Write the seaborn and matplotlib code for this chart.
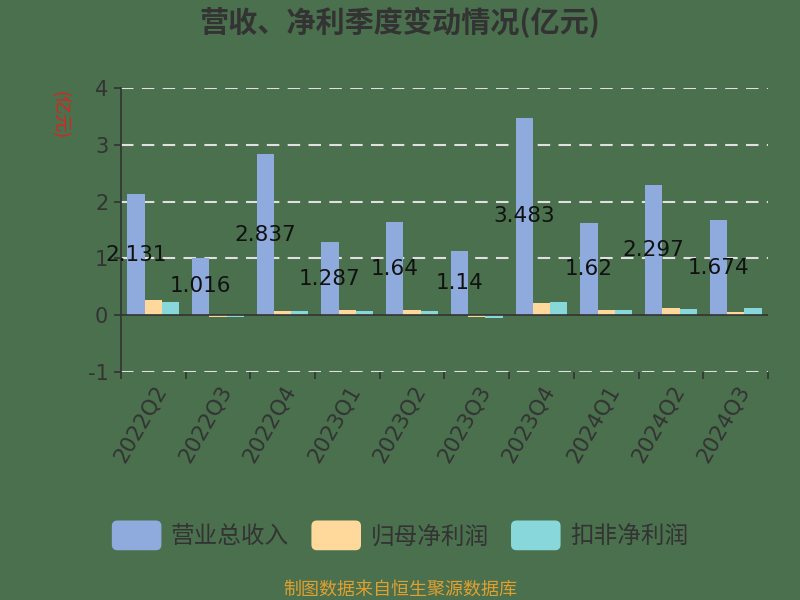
import matplotlib
matplotlib.use("Agg")
import matplotlib.pyplot as plt
import seaborn as sns
import pandas as pd
from matplotlib.patches import FancyBboxPatch
from matplotlib.legend_handler import HandlerPatch

quarters = ["2022Q2", "2022Q3", "2022Q4", "2023Q1", "2023Q2", "2023Q3",
            "2023Q4", "2024Q1", "2024Q2", "2024Q3"]
revenue = [2.131, 1.016, 2.837, 1.287, 1.64, 1.14, 3.483, 1.62, 2.297, 1.674]
net_profit = [0.26, -0.03, 0.08, 0.10, 0.10, -0.03, 0.22, 0.10, 0.12, 0.065]
deducted_profit = [0.24, -0.035, 0.075, 0.082, 0.082, -0.053, 0.24, 0.10, 0.115, 0.135]
series_names = ["营业总收入", "归母净利润", "扣非净利润"]
colors = ["#8FAADC", "#FFD99C", "#88D7DA"]
yticks = [-1, 0, 1, 2, 3, 4]

bg = "#4a704d"
sns.set_theme(style="white")
plt.rcParams["font.family"] = ["Noto Sans CJK SC", "DejaVu Sans"]

df = pd.DataFrame({
    "quarter": quarters * 3,
    "value": revenue + net_profit + deducted_profit,
    "series": [series_names[0]] * 10 + [series_names[1]] * 10 + [series_names[2]] * 10,
})

fig = plt.figure(figsize=(8, 6), dpi=100, facecolor=bg)
ax = fig.add_axes([0.151, 0.38, 0.809, 0.473])
ax.set_facecolor(bg)

sns.barplot(data=df, x="quarter", y="value", hue="series", hue_order=series_names,
            palette=colors, width=0.8, saturation=1, ax=ax, legend=False,
            errorbar=None, linewidth=0)

ax.set_ylim(-1, 4)
ax.set_xlim(-0.5, 9.5)
ax.set_yticks(yticks)
ax.set_yticklabels([str(t) for t in yticks], fontsize=15, color="#333333",
                   family="DejaVu Sans")
for t in yticks:
    if t != 0:
        ax.axhline(t, color="#e0e0e0", lw=1.5, ls=(0, (6, 4)), zorder=0)
ax.axhline(0, color="#333333", lw=1.2, zorder=3)

for s in ["top", "right", "bottom"]:
    ax.spines[s].set_visible(False)
ax.spines["left"].set_color("#333333")
ax.spines["left"].set_linewidth(1.2)
ax.tick_params(axis="y", length=5, color="#333333", width=1.2, left=True, pad=4)

ax.set_xticks(range(10))
ax.set_xticklabels(quarters, rotation=60, ha="right", va="top",
                   rotation_mode="anchor", fontsize=15.5, color="#333333",
                   family="DejaVu Sans")
ax.tick_params(axis="x", length=0, pad=7)
ax.set_xticks([i - 0.5 for i in range(11)], minor=True)
ax.tick_params(axis="x", which="minor", length=5, color="#333333", width=1.2, bottom=True)
ax.set_xlabel("")
ax.set_ylabel("")

ax.bar_label(ax.containers[0], labels=[f"{v:g}" for v in revenue],
             label_type="center", fontsize=15.5, color="#111111", family="DejaVu Sans")

fig.text(0.5, 0.962, "营收、净利季度变动情况(亿元)", ha="center", va="center",
         fontsize=21, fontweight="bold", color="#333333")
fig.text(0.075, 0.808, "(亿元)", rotation=-90, ha="center", va="center",
         fontsize=13, color="#e02020")
fig.text(0.5, 0.018, "制图数据来自恒生聚源数据库", ha="center", va="center",
         fontsize=13, color="#E0A030")


class RoundHandler(HandlerPatch):
    def create_artists(self, legend, orig_handle, xdescent, ydescent, width, height, fontsize, trans):
        p = FancyBboxPatch((-xdescent, -ydescent - 2), width, height + 4,
                           boxstyle="round,pad=0,rounding_size=4",
                           facecolor=orig_handle.get_facecolor(), edgecolor="none",
                           transform=trans)
        return [p]


handles = [matplotlib.patches.Patch(facecolor=c) for c in colors]
leg = fig.legend(handles, series_names, loc="center", bbox_to_anchor=(0.5, 0.107),
                 ncol=3, frameon=False, fontsize=17, handlelength=2.1, handleheight=1.2,
                 columnspacing=0.95, handletextpad=0.4,
                 handler_map={matplotlib.patches.Patch: RoundHandler()})
for t in leg.get_texts():
    t.set_color("#333333")
    t.set_fontweight("medium")

fig.savefig("out.png", dpi=100, facecolor=bg)
